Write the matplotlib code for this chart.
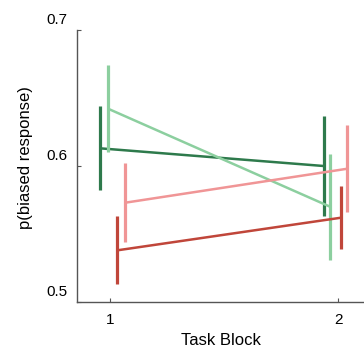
import matplotlib
matplotlib.use("Agg")
import matplotlib.pyplot as plt
from matplotlib.transforms import ScaledTranslation

plt.rcParams['font.family'] = ['Liberation Sans', 'DejaVu Sans']

# task blocks and the x position of each series (slightly dodged)
blocks = [1, 2]
x_dkgreen = [0.956, 1.937]
x_ltgreen = [0.993, 1.966]
x_dkred = [1.032, 2.014]
x_pink = [1.066, 2.041]

# mean p(biased response) and error half-widths
y_dkgreen = [0.613, 0.600]
e_dkgreen = [0.031, 0.037]
y_ltgreen = [0.642, 0.570]
e_ltgreen = [0.032, 0.039]
y_pink = [0.573, 0.598]
e_pink = [0.029, 0.032]
y_dkred = [0.538, 0.562]
e_dkred = [0.025, 0.023]

series = [
    (x_dkgreen, y_dkgreen, e_dkgreen, '#2e7a4c'),
    (x_ltgreen, y_ltgreen, e_ltgreen, '#8ccf9f'),
    (x_pink, y_pink, e_pink, '#f09596'),
    (x_dkred, y_dkred, e_dkred, '#c0463a'),
]

fig = plt.figure(figsize=(3.64, 3.47), dpi=100)
ax = fig.add_axes([77/364, 45/347, 287/364, 272/347])

for xs, ys, es, col in series:
    ax.plot(xs, ys, color=col, lw=1.8, solid_capstyle='butt')
    ax.errorbar(xs, ys, yerr=es, fmt='none', ecolor=col, elinewidth=2.3, capsize=0)

ax.set_xlim(0.855, 2.114)
ax.set_ylim(0.5, 0.7)
ax.set_xticks(blocks)
ax.set_yticks([0.5, 0.6, 0.7])
ax.set_yticklabels(['0.5', '0.6', '0.7'])

for side in ['top', 'right']:
    ax.spines[side].set_visible(False)
for side in ['left', 'bottom']:
    ax.spines[side].set_color('#555555')
    ax.spines[side].set_linewidth(1.0)

ax.tick_params(direction='in', length=3, width=0.8, color='#555555', labelsize=11)
ax.tick_params(axis='x', pad=8)
ax.tick_params(axis='y', pad=7)

# y tick labels sit a bit above their ticks in the original
off = ScaledTranslation(0, 0.12, fig.dpi_scale_trans)
for lab in ax.get_yticklabels():
    lab.set_transform(lab.get_transform() + off)

ax.set_xlabel('Task Block', fontsize=12, labelpad=4)
ax.set_ylabel('p(biased response)', fontsize=12)
ax.yaxis.set_label_coords(-0.155, 0.53)

fig.savefig('out.png', dpi=100)
